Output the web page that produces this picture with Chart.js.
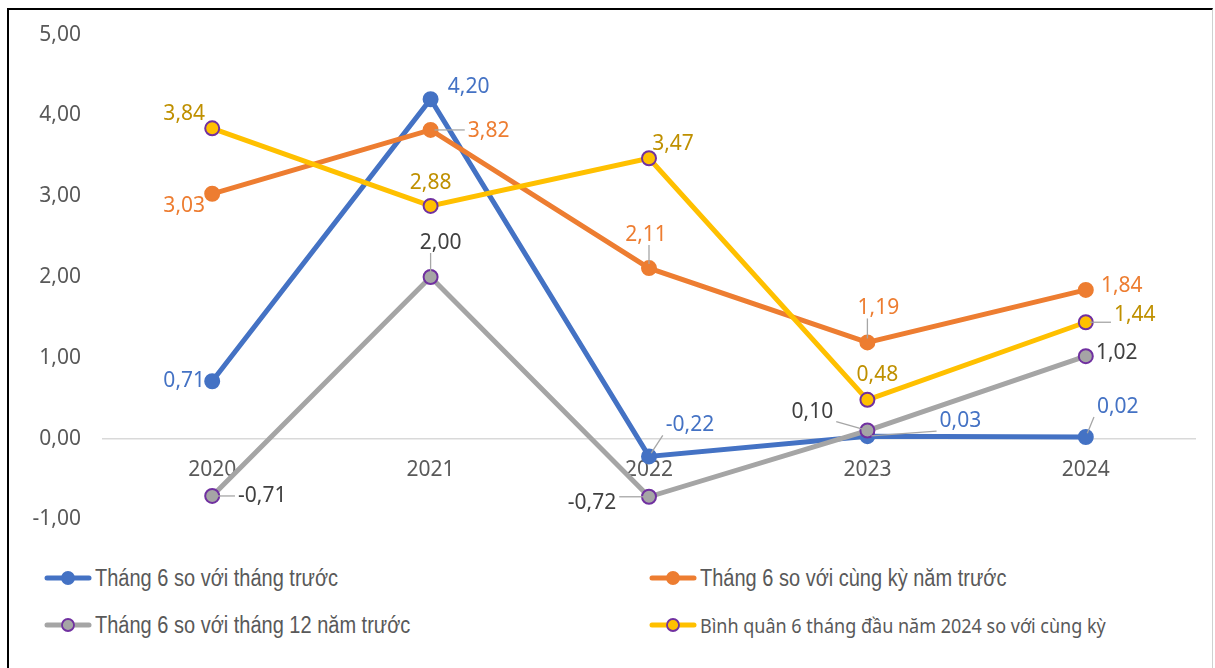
<!DOCTYPE html>
<html>
<head>
<meta charset="utf-8">
<script src="https://cdn.jsdelivr.net/npm/chart.js@4.4.1/dist/chart.umd.min.js"></script>
<style>
  html, body { margin: 0; padding: 0; background: #fff; }
  body { width: 1215px; height: 668px; position: relative; overflow: hidden; }
  #frame { position: absolute; left: 7px; top: 8px; width: 1206px; height: 670px;
           border-left: 2px solid #000; border-top: 2px solid #000; border-right: 1px solid #d0d0d0; box-sizing: border-box; }
  #wrap { position: absolute; left: 0; top: 0; width: 1215px; height: 554px; }
  #legend { position: absolute; left: 0; top: 555px; width: 1215px; height: 100px; }
  .item { position: absolute; display: flex; align-items: center; color: #595959; white-space: nowrap; }
  .item svg { margin-right: 3px; }
  .item span { display: inline-block; transform: scaleY(1.15); }
</style>
</head>
<body>
<div id="frame"></div>
<div id="wrap"><canvas id="c" width="1215" height="554"></canvas></div>
<div id="legend"></div>
<script>
const categories = ['2020', '2021', '2022', '2023', '2024'];
const seriesNames = [
  'Tháng 6 so với tháng trước',
  'Tháng 6 so với cùng kỳ năm trước',
  'Tháng 6 so với tháng 12 năm trước',
  'Bình quân 6 tháng đầu năm 2024 so với cùng kỳ'
];
const monthOverMonth = [0.71, 4.20, -0.22, 0.03, 0.02];
const yearOverYear = [3.03, 3.82, 2.11, 1.19, 1.84];
const sinceDecember = [-0.71, 2.00, -0.72, 0.10, 1.02];
const sixMonthAverage = [3.84, 2.88, 3.47, 0.48, 1.44];
const yTicks = [-1, 0, 1, 2, 3, 4, 5];

const lineColors = ['#4472C4', '#ED7D31', '#A5A5A5', '#FFC000'];
const labelColors = ['#4472C4', '#ED7D31', '#404040', '#BF9000'];
const markerBorders = ['#4472C4', '#ED7D31', '#7030A0', '#7030A0'];
// label placement offsets (px) from point: [dx, dy, leader]
const labelPlacement = [
  [[-28, 0, 0], [38, -12, 0], [41, -31, 1], [93, -15, 1], [32, -30, 1]],
  [[-28, 12, 0], [58, 1, 1], [-3, -33, 1], [11, -34, 1], [36, -4, 0]],
  [[50, 0, 1], [10, -34, 1], [-57, 6, 1], [-55, -19, 1], [31, -3, 0]],
  [[-28, -14, 0], [0, -23, 0], [24, -14, 0], [10, -25, 0], [49, -7, 1]]
];

const fmt = v => v.toFixed(2).replace('.', ',');
const FONT = '"Noto Sans", "Open Sans", sans-serif';

const labelPlugin = {
  id: 'pointLabels',
  afterDatasetsDraw(chart) {
    const ctx = chart.ctx;
    ctx.save();
    ctx.font = '21px ' + FONT;
    ctx.textAlign = 'center';
    ctx.textBaseline = 'middle';
    chart.data.datasets.forEach((ds, di) => {
      const meta = chart.getDatasetMeta(di);
      meta.data.forEach((pt, i) => {
        const [dx, dy, leader] = labelPlacement[di][i];
        const text = fmt(ds.data[i]);
        const lx = pt.x + dx, ly = pt.y + dy;
        const w = ctx.measureText(text).width;
        const h = 20;
        if (leader) {
          const bx0 = lx - w / 2 - 3, bx1 = lx + w / 2 + 3;
          const by0 = ly - h / 2, by1 = ly + h / 2;
          const sx = Math.min(Math.max(pt.x, bx0), bx1);
          const sy = Math.min(Math.max(pt.y, by0), by1);
          const vx = sx - pt.x, vy = sy - pt.y;
          const d = Math.hypot(vx, vy);
          if (d > 9) {
            const ex = pt.x + vx / d * 4, ey = pt.y + vy / d * 4;
            ctx.strokeStyle = '#A6A6A6';
            ctx.lineWidth = 1.3;
            ctx.beginPath();
            ctx.moveTo(sx, sy);
            ctx.lineTo(ex, ey);
            ctx.stroke();
          }
        }
        ctx.fillStyle = labelColors[di];
        ctx.fillText(text, lx, ly);
      });
    });
    ctx.restore();
  }
};

const seriesData = [monthOverMonth, yearOverYear, sinceDecember, sixMonthAverage];
const drawOrder = [3, 2, 1, 0];
const datasets = seriesData.map((d, i) => ({
  label: seriesNames[i],
  data: d,
  borderColor: lineColors[i],
  backgroundColor: lineColors[i],
  pointBackgroundColor: lineColors[i],
  pointBorderColor: markerBorders[i],
  pointBorderWidth: 2,
  pointRadius: 7,
  borderWidth: 5,
  tension: 0,
  order: drawOrder[i]
}));

new Chart(document.getElementById('c'), {
  type: 'line',
  data: { labels: categories, datasets },
  options: {
    responsive: false,
    animation: false,
    events: [],
    layout: { padding: { top: 27, bottom: 9, left: 0, right: 20 } },
    plugins: { legend: { display: false }, tooltip: { enabled: false } },
    scales: {
      x: {
        position: { y: 0 },
        offset: true,
        grid: { display: false, drawTicks: false },
        border: { display: true, color: '#D9D9D9', width: 1.5 },
        ticks: { color: '#595959', font: { size: 21, family: FONT }, padding: 19, maxRotation: 0 }
      },
      y: {
        min: -1, max: 5,
        afterFit: s => { s.width = 103; },
        afterBuildTicks: s => { s.ticks = yTicks.map(v => ({ value: v })); },
        grid: { display: false, drawTicks: false },
        border: { display: false },
        ticks: { color: '#595959', font: { size: 21, family: FONT }, padding: 22, callback: v => fmt(v) }
      }
    }
  },
  plugins: [labelPlugin]
});

// HTML legend
const ARIAL = 'Liberation Sans, Arial, sans-serif';
const legendPos = [[44, 23, 20, ARIAL], [649, 23, 20, ARIAL], [44, 70, 20, ARIAL], [649, 70, 18, FONT]];
const legend = document.getElementById('legend');
seriesNames.forEach((name, i) => {
  const [x, y, fs, ff] = legendPos[i];
  const el = document.createElement('div');
  el.className = 'item';
  el.style.left = x + 'px';
  el.style.top = (y - 14) + 'px';
  el.style.height = '28px';
  el.style.fontSize = fs + 'px';
  el.style.fontFamily = ff;
  el.innerHTML = '<svg width="48" height="20"><line x1="3" y1="10" x2="45" y2="10" stroke="' + lineColors[i] +
    '" stroke-width="5" stroke-linecap="round"/><circle cx="24" cy="10" r="6" fill="' + lineColors[i] +
    '" stroke="' + markerBorders[i] + '" stroke-width="1.8"/></svg>';
  const span = document.createElement('span');
  span.textContent = name;
  el.appendChild(span);
  legend.appendChild(el);
});
</script>
</body>
</html>
